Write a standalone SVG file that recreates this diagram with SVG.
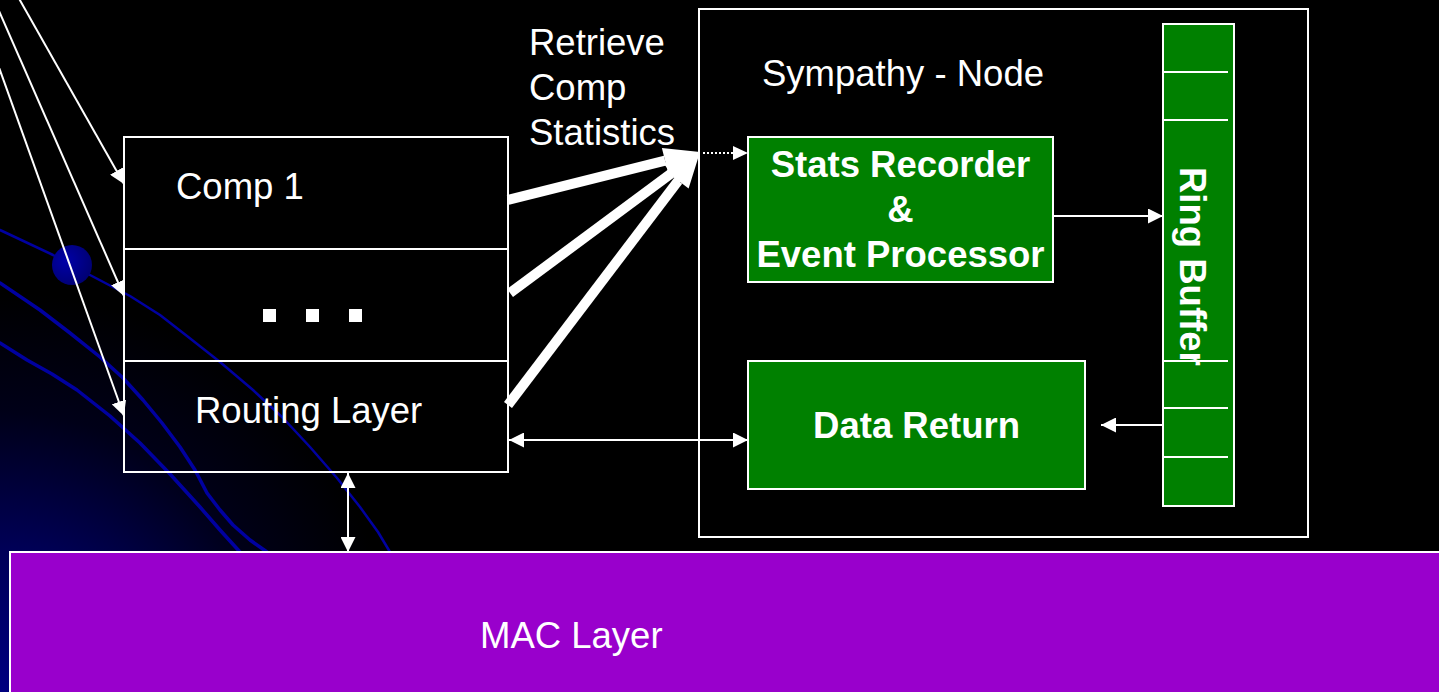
<svg xmlns="http://www.w3.org/2000/svg" width="1439" height="692" viewBox="0 0 1439 692">
<style>
.t{font-family:"Liberation Sans",Arial,sans-serif;font-size:36.5px;fill:#fff}
.b{font-weight:bold}
.box{fill:none;stroke:#fff;stroke-width:2}
.gbox{fill:#008000;stroke:#fff;stroke-width:2}
.ln{stroke:#fff;stroke-width:2;fill:none}
.curve{fill:none;stroke:#0000a0;stroke-linejoin:round;stroke-linecap:round}
.thick{stroke:#fff;stroke-width:10;fill:none}
</style>
<defs>
<radialGradient id="glow" cx="0" cy="692" r="400" gradientUnits="userSpaceOnUse">
<stop offset="0" stop-color="#000080"/>
<stop offset="0.35" stop-color="#000058"/>
<stop offset="0.7" stop-color="#000018"/>
<stop offset="1" stop-color="#000000"/>
</radialGradient>
<radialGradient id="ball" cx="0.35" cy="0.4" r="0.7">
<stop offset="0" stop-color="#0000a8"/>
<stop offset="1" stop-color="#000070"/>
</radialGradient>
<marker id="ah" viewBox="0 0 15 15" refX="15" refY="7.5" markerWidth="15" markerHeight="15" orient="auto-start-reverse" markerUnits="userSpaceOnUse">
<path d="M0,0 L15,7.5 L0,15 Z" fill="#fff"/>
</marker>
</defs>
<rect x="0" y="0" width="1439" height="692" fill="#000"/>
<rect x="0" y="0" width="1439" height="692" fill="url(#glow)"/>
<g id="background-curves">
<polyline class="curve" stroke-width="2.5" points="0,230 53,255 90,275 130,296 160,315 187,336 220,362 253,390 283,418 310,447 337,478 360,507 378,532 390,552"/>
<polyline class="curve" stroke-width="3.5" points="0,283 40,310 70,333 100,357 123,378 143,400 162,423 180,447 195,470 207,493 220,510 233,525 250,540 267,552"/>
<polyline class="curve" stroke-width="3.5" points="0,343 27,360 52,374 77,390 110,416 140,443 170,474 200,507 220,530 240,552"/>
<circle cx="72" cy="265" r="20" fill="url(#ball)"/>
</g>
<g id="sympathy-node">
<rect class="box" x="699" y="9" width="609" height="528"/>
<text class="t" x="762" y="86">Sympathy - Node</text>
</g>
<g id="component-stack">
<rect class="box" x="124" y="137" width="384" height="335"/>
<line class="ln" x1="124" y1="249" x2="508" y2="249"/>
<line class="ln" x1="124" y1="361" x2="508" y2="361"/>
<text class="t" x="176" y="199">Comp 1</text>
<rect x="263" y="309" width="13" height="13" fill="#fff"/>
<rect x="306" y="309" width="13" height="13" fill="#fff"/>
<rect x="349" y="309" width="13" height="13" fill="#fff"/>
<text class="t" x="195" y="423">Routing Layer</text>
</g>
<g id="retrieve-label">
<text class="t" x="529" y="55">Retrieve</text>
<text class="t" x="529" y="100">Comp</text>
<text class="t" x="529" y="145">Statistics</text>
</g>
<g id="stats-recorder">
<rect class="gbox" x="748" y="137" width="305" height="145"/>
<text class="t b" x="900.5" y="177" text-anchor="middle">Stats Recorder</text>
<text class="t b" x="900.5" y="222" text-anchor="middle">&amp;</text>
<text class="t b" x="900.5" y="267" text-anchor="middle">Event Processor</text>
</g>
<g id="data-return">
<rect class="gbox" x="748" y="361" width="337" height="128"/>
<text class="t b" x="916.5" y="438" text-anchor="middle">Data Return</text>
</g>
<g id="ring-buffer">
<rect class="gbox" x="1163" y="24" width="71" height="482"/>
<line class="ln" x1="1163" y1="72" x2="1228" y2="72"/>
<line class="ln" x1="1163" y1="120" x2="1228" y2="120"/>
<line class="ln" x1="1163" y1="361" x2="1228" y2="361"/>
<line class="ln" x1="1163" y1="408" x2="1228" y2="408"/>
<line class="ln" x1="1163" y1="457" x2="1228" y2="457"/>
<text class="t b" transform="translate(1180,167) rotate(90)">Ring Buffer</text>
</g>
<g id="mac-layer">
<rect x="10" y="552" width="1440" height="150" fill="#9900cc" stroke="#fff" stroke-width="2"/>
<text class="t" x="480" y="648">MAC Layer</text>
</g>
<g id="connectors">
<line class="ln" x1="17" y1="-5" x2="124" y2="184" marker-end="url(#ah)"/>
<line class="ln" x1="-8" y1="-5" x2="124" y2="296" marker-end="url(#ah)"/>
<line class="ln" x1="-27" y1="-5" x2="124" y2="416" marker-end="url(#ah)"/>
<line class="thick" x1="508" y1="200" x2="665.1" y2="160.7"/>
<polygon points="700,152 668.2,173.3 661.9,148.1" fill="#fff"/>
<line class="thick" x1="510" y1="293" x2="671.1" y2="173.5"/>
<polygon points="700,152 678.8,183.9 663.3,163.0" fill="#fff"/>
<line class="thick" x1="508" y1="405" x2="678.2" y2="180.7"/>
<polygon points="700,152 688.6,188.5 667.9,172.8" fill="#fff"/>
<line x1="703" y1="153" x2="734" y2="153" stroke="#fff" stroke-width="2" stroke-dasharray="2,2"/>
<path d="M733,146 L748,153 L733,160 Z" fill="#fff"/>
<line class="ln" x1="1053" y1="216" x2="1163" y2="216" marker-end="url(#ah)"/>
<line class="ln" x1="1163" y1="425" x2="1101" y2="425" marker-end="url(#ah)"/>
<line class="ln" x1="509" y1="440" x2="748" y2="440" marker-start="url(#ah)" marker-end="url(#ah)"/>
<line class="ln" x1="348" y1="473" x2="348" y2="552" marker-start="url(#ah)" marker-end="url(#ah)"/>
</g>
</svg>
